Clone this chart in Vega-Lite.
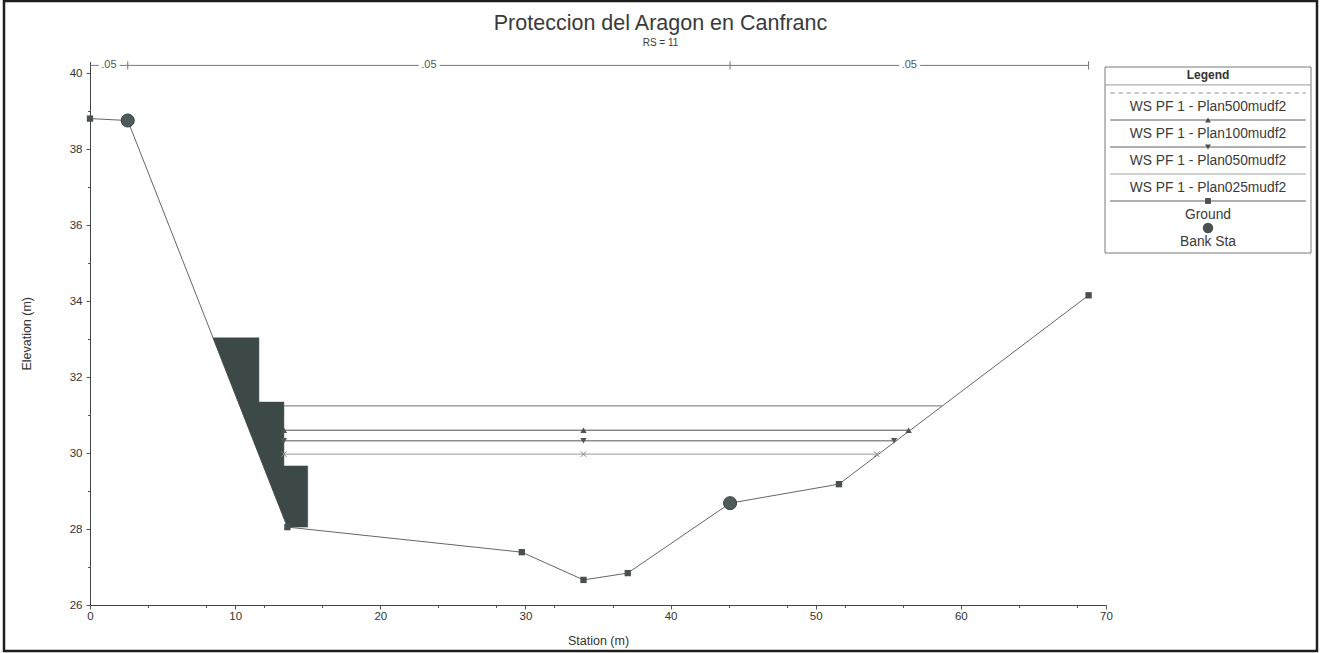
{
  "$schema": "https://vega.github.io/schema/vega-lite/v6.json",
  "width": 1313,
  "height": 650,
  "padding": {"left": 4, "top": 1, "right": 4, "bottom": 2},
  "background": "white",
  "config": {
    "font": "Liberation Sans",
    "view": {"stroke": "#1e1e1e", "strokeWidth": 2.5},
    "axis": {"labelOverlap": false, "labelBound": false}
  },
  "title": {
    "text": "Proteccion del Aragon en Canfranc",
    "subtitle": "RS = 11",
    "anchor": "middle",
    "frame": "group",
    "offset": -47,
    "font": "Liberation Sans",
    "fontSize": 21.5,
    "fontWeight": "normal",
    "color": "#3a3a3a",
    "subtitleFont": "Liberation Sans",
    "subtitleFontSize": 10,
    "subtitleColor": "#3a3a3a",
    "subtitlePadding": 4
  },
  "datasets": {
    "ground": [
      {"station": 0, "elev": 38.8},
      {"station": 2.6, "elev": 38.75},
      {"station": 13.6, "elev": 28.05},
      {"station": 29.75, "elev": 27.39},
      {"station": 34.0, "elev": 26.66},
      {"station": 37.05, "elev": 26.84},
      {"station": 44.1, "elev": 28.68},
      {"station": 51.6, "elev": 29.18},
      {"station": 68.8, "elev": 34.15}
    ],
    "bank": [
      {"station": 2.6, "elev": 38.75},
      {"station": 44.1, "elev": 28.68}
    ],
    "block": [
      {"station": 8.48, "top": 33.03, "bottom": 33.03},
      {"station": 11.64, "top": 33.03, "bottom": 29.956},
      {"station": 11.64, "top": 31.34, "bottom": 29.956},
      {"station": 13.36, "top": 31.34, "bottom": 28.283},
      {"station": 13.36, "top": 29.66, "bottom": 28.283},
      {"station": 13.6, "top": 29.66, "bottom": 28.05},
      {"station": 15.0, "top": 29.66, "bottom": 28.05}
    ],
    "ws": [
      {"plan": "Plan500mudf2", "station": 13.36, "elev": 31.24},
      {"plan": "Plan500mudf2", "station": 58.7, "elev": 31.24},
      {"plan": "Plan100mudf2", "station": 13.36, "elev": 30.6},
      {"plan": "Plan100mudf2", "station": 34.0, "elev": 30.6},
      {"plan": "Plan100mudf2", "station": 56.4, "elev": 30.6},
      {"plan": "Plan050mudf2", "station": 13.36, "elev": 30.32},
      {"plan": "Plan050mudf2", "station": 34.0, "elev": 30.32},
      {"plan": "Plan050mudf2", "station": 55.4, "elev": 30.32},
      {"plan": "Plan025mudf2", "station": 13.36, "elev": 29.97},
      {"plan": "Plan025mudf2", "station": 34.0, "elev": 29.97},
      {"plan": "Plan025mudf2", "station": 54.2, "elev": 29.97}
    ],
    "nval": [
      {"from": 0, "to": 2.6, "n": 0.05},
      {"from": 2.6, "to": 44.1, "n": 0.05},
      {"from": 44.1, "to": 68.8, "n": 0.05}
    ],
    "legend": [
      {"item": "WS PF 1 - Plan500mudf2", "key": "p500"},
      {"item": "WS PF 1 - Plan100mudf2", "key": "p100"},
      {"item": "WS PF 1 - Plan050mudf2", "key": "p050"},
      {"item": "WS PF 1 - Plan025mudf2", "key": "p025"},
      {"item": "Ground", "key": "ground"},
      {"item": "Bank Sta", "key": "bank"}
    ]
  },
  "layer": [
    {
      "layer": [
        {
          "data": {"name": "ground"},
          "mark": {"type": "line", "color": "#666666", "strokeWidth": 1},
          "encoding": {
            "x": {
              "field": "station", "type": "quantitative",
              "scale": {"domain": [0, 70], "range": [86, 1102], "nice": false, "zero": false},
              "axis": {
                "orient": "bottom", "offset": -46, "title": "Station (m)",
                "values": [0, 10, 20, 30, 40, 50, 60, 70],
                "tickSize": 4,
                "labelOverlap": false, "labelFlush": false, "grid": false,
                "domainColor": "#444", "tickColor": "#555",
                "labelColor": "#333", "labelFontSize": 11.5, "labelPadding": 1,
                "titleColor": "#333", "titleFontSize": 12.5, "titleFontWeight": "normal", "titlePadding": 13
              }
            },
            "y": {
              "field": "elev", "type": "quantitative",
              "scale": {"domain": [26, 40.3], "range": [604, 60.6], "nice": false, "zero": false},
              "axis": {
                "orient": "left", "offset": -86, "title": "Elevation (m)",
                "values": [26, 26.5, 27, 27.5, 28, 28.5, 29, 29.5, 30, 30.5, 31, 31.5, 32, 32.5, 33, 33.5, 34, 34.5, 35, 35.5, 36, 36.5, 37, 37.5, 38, 38.5, 39, 39.5, 40],
                "labelExpr": "datum.value % 2 === 0 ? datum.label : ''",
                "tickSize": {"condition": {"test": "datum.value % 2 === 0", "value": 4}, "value": 2.5},
                "labelOverlap": false, "labelFlush": false, "grid": false,
                "domainColor": "#444", "tickColor": "#555",
                "labelColor": "#333", "labelFontSize": 11.5, "labelPadding": 4,
                "titleColor": "#333", "titleFontSize": 12.5, "titleFontWeight": "normal", "titlePadding": 36
              }
            }
          }
        },
        {
          "data": {"name": "block"},
          "mark": {"type": "area", "fill": "#3d4949", "fillOpacity": 1, "stroke": "#3d4949", "strokeWidth": 0.5},
          "encoding": {
            "x": {"field": "station", "type": "quantitative", "scale": {"domain": [0, 70], "range": [86, 1102], "nice": false, "zero": false}},
            "y": {"field": "top", "type": "quantitative", "scale": {"domain": [26, 40.3], "range": [604, 60.6], "nice": false, "zero": false}},
            "y2": {"field": "bottom"}
          }
        },
        {
          "data": {"name": "ws"},
          "mark": {"type": "line", "strokeWidth": 1},
          "encoding": {
            "x": {"field": "station", "type": "quantitative", "scale": {"domain": [0, 70], "range": [86, 1102], "nice": false, "zero": false}},
            "y": {"field": "elev", "type": "quantitative", "scale": {"domain": [26, 40.3], "range": [604, 60.6], "nice": false, "zero": false}},
            "color": {
              "field": "plan", "type": "nominal", "legend": null,
              "scale": {"domain": ["Plan500mudf2", "Plan100mudf2", "Plan050mudf2", "Plan025mudf2"], "range": ["#6e6e6e", "#4f4f4f", "#555555", "#9a9a9a"]}
            }
          }
        },
        {
          "data": {"name": "ground"},
          "mark": {"type": "point", "shape": "square", "filled": true, "color": "#485050", "size": 40, "opacity": 1},
          "encoding": {
            "x": {"field": "station", "type": "quantitative", "scale": {"domain": [0, 70], "range": [86, 1102], "nice": false, "zero": false}},
            "y": {"field": "elev", "type": "quantitative", "scale": {"domain": [26, 40.3], "range": [604, 60.6], "nice": false, "zero": false}}
          }
        },
        {
          "data": {"name": "ws"},
          "transform": [{"filter": "datum.plan === 'Plan100mudf2' || datum.plan === 'Plan050mudf2'"}],
          "mark": {"type": "point", "filled": true, "size": 40, "opacity": 1},
          "encoding": {
            "x": {"field": "station", "type": "quantitative", "scale": {"domain": [0, 70], "range": [86, 1102], "nice": false, "zero": false}},
            "y": {"field": "elev", "type": "quantitative", "scale": {"domain": [26, 40.3], "range": [604, 60.6], "nice": false, "zero": false}},
            "shape": {
              "field": "plan", "type": "nominal", "legend": null,
              "scale": {"domain": ["Plan100mudf2", "Plan050mudf2"], "range": ["triangle-up", "triangle-down"]}
            },
            "color": {"field": "plan", "type": "nominal", "legend": null}
          }
        },
        {
          "data": {"name": "ws"},
          "transform": [{"filter": "datum.plan === 'Plan025mudf2'"}],
          "mark": {"type": "point", "filled": false, "shape": "M-1,-1L1,1M-1,1L1,-1", "size": 30, "color": "#8a8a8a", "strokeWidth": 1, "opacity": 1},
          "encoding": {
            "x": {"field": "station", "type": "quantitative", "scale": {"domain": [0, 70], "range": [86, 1102], "nice": false, "zero": false}},
            "y": {"field": "elev", "type": "quantitative", "scale": {"domain": [26, 40.3], "range": [604, 60.6], "nice": false, "zero": false}}
          }
        },
        {
          "data": {"name": "bank"},
          "mark": {"type": "point", "shape": "circle", "filled": true, "color": "#4f5b5b", "stroke": "#364040", "strokeWidth": 1, "size": 170, "opacity": 1},
          "encoding": {
            "x": {"field": "station", "type": "quantitative", "scale": {"domain": [0, 70], "range": [86, 1102], "nice": false, "zero": false}},
            "y": {"field": "elev", "type": "quantitative", "scale": {"domain": [26, 40.3], "range": [604, 60.6], "nice": false, "zero": false}}
          }
        }
      ]
    },
    {
      "data": {"name": "nval"},
      "layer": [
        {
          "mark": {"type": "rule", "color": "#777", "strokeWidth": 1},
          "encoding": {
            "x": {
              "field": "from", "type": "quantitative",
              "scale": {"domain": [0, 70], "range": [86, 1102], "nice": false, "zero": false},
              "axis": {
                "orient": "bottom", "offset": -46, "title": null,
                "values": [0, 2, 4, 6, 8, 10, 12, 14, 16, 18, 20, 22, 24, 26, 28, 30, 32, 34, 36, 38, 40, 42, 44, 46, 48, 50, 52, 54, 56, 58, 60, 62, 64, 66, 68, 70],
                "labels": false, "domain": false, "grid": false,
                "tickSize": 2.5, "tickColor": "#555"
              }
            },
            "x2": {"field": "to"},
            "y": {"datum": 40.2, "type": "quantitative", "scale": {"domain": [26, 40.3], "range": [604, 60.6], "nice": false, "zero": false}, "axis": null}
          }
        },
        {
          "mark": {"type": "rule", "color": "#777", "strokeWidth": 1},
          "encoding": {
            "x": {"field": "to", "type": "quantitative", "scale": {"domain": [0, 70], "range": [86, 1102], "nice": false, "zero": false}},
            "y": {"datum": 40.09, "type": "quantitative", "scale": {"domain": [26, 40.3], "range": [604, 60.6], "nice": false, "zero": false}, "axis": null},
            "y2": {"datum": 40.31}
          }
        },
        {
          "transform": [
            {"calculate": "(datum.from + datum.to) / 2", "as": "mid"},
            {"calculate": "substring(format(datum.n, '.2f'), 1)", "as": "lbl"}
          ],
          "mark": {"type": "text", "fontSize": 11, "color": "white", "stroke": "white", "strokeWidth": 7, "baseline": "middle", "align": "center"},
          "encoding": {
            "x": {"field": "mid", "type": "quantitative", "scale": {"domain": [0, 70], "range": [86, 1102], "nice": false, "zero": false}},
            "y": {"datum": 40.2, "type": "quantitative", "scale": {"domain": [26, 40.3], "range": [604, 60.6], "nice": false, "zero": false}, "axis": null},
            "text": {"field": "lbl"}
          }
        },
        {
          "transform": [
            {"calculate": "(datum.from + datum.to) / 2", "as": "mid"},
            {"calculate": "substring(format(datum.n, '.2f'), 1)", "as": "lbl"}
          ],
          "mark": {"type": "text", "fontSize": 11, "color": "#555", "baseline": "middle", "align": "center"},
          "encoding": {
            "x": {"field": "mid", "type": "quantitative", "scale": {"domain": [0, 70], "range": [86, 1102], "nice": false, "zero": false}},
            "y": {"datum": 40.2, "type": "quantitative", "scale": {"domain": [26, 40.3], "range": [604, 60.6], "nice": false, "zero": false}, "axis": null},
            "text": {"field": "lbl"}
          }
        }
      ]
    },
    {
      "layer": [
        {
          "layer": [
            {
              "data": {"values": [{"part": "box"}]},
              "mark": {"type": "rect", "fill": "white", "stroke": "#7a7a7a", "strokeWidth": 1},
              "encoding": {
                "x": {"datum": 0, "type": "quantitative", "scale": {"domain": [0, 1], "range": [1101, 1307], "nice": false, "zero": false}, "axis": null},
                "x2": {"datum": 1},
                "y": {"datum": 0, "type": "quantitative", "scale": {"domain": [0, 14], "range": [66, 252], "nice": false, "zero": false}, "axis": null},
                "y2": {"datum": 14}
              }
            },
            {
              "data": {"values": [{"part": "rule"}]},
              "mark": {"type": "rule", "color": "#999", "strokeWidth": 1},
              "encoding": {
                "x": {"datum": 0, "type": "quantitative", "scale": {"domain": [0, 1], "range": [1101, 1307], "nice": false, "zero": false}, "axis": null},
                "x2": {"datum": 1},
                "y": {"datum": 1.35, "type": "quantitative", "scale": {"domain": [0, 14], "range": [66, 252], "nice": false, "zero": false}, "axis": null}
              }
            },
            {
              "data": {"values": [{"label": "Legend"}]},
              "mark": {"type": "text", "fontSize": 12, "fontWeight": "bold", "color": "#333", "align": "center", "baseline": "middle"},
              "encoding": {
                "x": {"datum": 0.5, "type": "quantitative", "scale": {"domain": [0, 1], "range": [1101, 1307], "nice": false, "zero": false}, "axis": null},
                "y": {"datum": 0.62, "type": "quantitative", "scale": {"domain": [0, 14], "range": [66, 252], "nice": false, "zero": false}, "axis": null},
                "text": {"field": "label"}
              }
            }
          ]
        },
        {
          "data": {"name": "legend"},
          "layer": [
            {
              "transform": [{"filter": "datum.key !== 'bank'"}],
              "mark": {"type": "rule", "strokeWidth": 1},
              "encoding": {
                "x": {"datum": 0.025, "type": "quantitative", "scale": {"domain": [0, 1], "range": [1101, 1307], "nice": false, "zero": false}, "axis": null},
                "x2": {"datum": 0.975},
                "y": {
                  "field": "item", "type": "nominal", "axis": null,
                  "scale": {"type": "point", "domain": ["WS PF 1 - Plan500mudf2", "WS PF 1 - Plan100mudf2", "WS PF 1 - Plan050mudf2", "WS PF 1 - Plan025mudf2", "Ground", "Bank Sta"], "range": [92, 227], "padding": 0}
                },
                "color": {"condition": {"test": "datum.key === 'p500' || datum.key === 'p025'", "value": "#9a9a9a"}, "value": "#555555"},
                "strokeDash": {"condition": {"test": "datum.key === 'p500'", "value": [5, 3]}, "value": [1, 0]}
              }
            },
            {
              "transform": [{"filter": "datum.key !== 'p500' && datum.key !== 'p025'"}],
              "mark": {"type": "point", "filled": true, "color": "#485050", "opacity": 1},
              "encoding": {
                "x": {"datum": 0.5, "type": "quantitative", "scale": {"domain": [0, 1], "range": [1101, 1307], "nice": false, "zero": false}, "axis": null},
                "y": {
                  "field": "item", "type": "nominal", "axis": null,
                  "scale": {"type": "point", "domain": ["WS PF 1 - Plan500mudf2", "WS PF 1 - Plan100mudf2", "WS PF 1 - Plan050mudf2", "WS PF 1 - Plan025mudf2", "Ground", "Bank Sta"], "range": [92, 227], "padding": 0}
                },
                "shape": {
                  "field": "key", "type": "nominal", "legend": null,
                  "scale": {"domain": ["p100", "p050", "ground", "bank"], "range": ["triangle-up", "triangle-down", "square", "circle"]}
                },
                "size": {"condition": {"test": "datum.key === 'bank'", "value": 110}, "value": 34}
              }
            },
            {
              "mark": {"type": "text", "fontSize": 13.8, "color": "#3a3a3a", "align": "center", "baseline": "middle", "dy": 14},
              "encoding": {
                "x": {"datum": 0.5, "type": "quantitative", "scale": {"domain": [0, 1], "range": [1101, 1307], "nice": false, "zero": false}, "axis": null},
                "y": {
                  "field": "item", "type": "nominal", "axis": null,
                  "scale": {"type": "point", "domain": ["WS PF 1 - Plan500mudf2", "WS PF 1 - Plan100mudf2", "WS PF 1 - Plan050mudf2", "WS PF 1 - Plan025mudf2", "Ground", "Bank Sta"], "range": [92, 227], "padding": 0}
                },
                "text": {"field": "item"}
              }
            }
          ]
        }
      ],
      "resolve": {"scale": {"y": "independent"}}
    }
  ],
  "resolve": {"scale": {"x": "independent", "y": "independent", "color": "independent", "shape": "independent"}}
}
